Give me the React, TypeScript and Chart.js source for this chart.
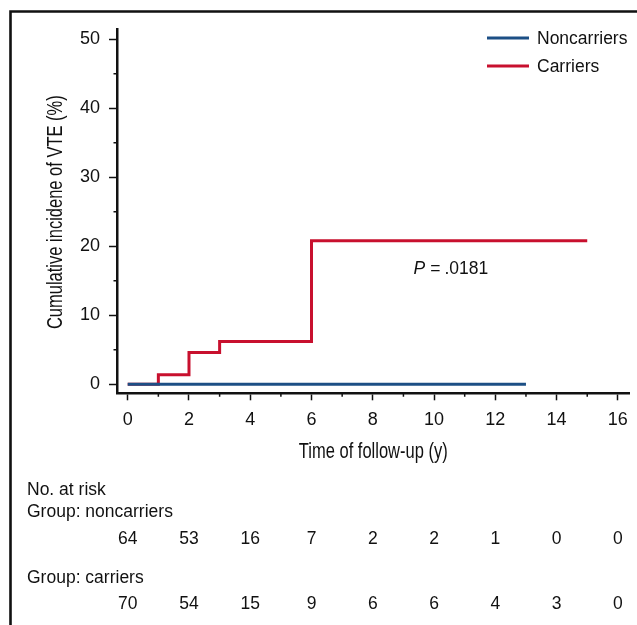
import { useEffect, useRef } from "react";
import { Chart, registerables } from "chart.js";

Chart.register(...registerables);

// ---- data ----
const seriesNames = ["Noncarriers", "Carriers"];
const noncarrierTimes = [0, 13];
const noncarrierIncidence = [0, 0];
const carrierTimes = [0, 1, 2, 3, 6, 15];
const carrierIncidence = [0, 1.4, 4.6, 6.2, 20.8, 20.8];

const xTickValues = [0, 2, 4, 6, 8, 10, 12, 14, 16];
const xMinorTicks = [1, 3, 5, 7, 9, 11, 13, 15];
const yTickValues = [0, 10, 20, 30, 40, 50];
const yMinorTicks = [5, 15, 25, 35, 45];

const riskTimes = [0, 2, 4, 6, 8, 10, 12, 14, 16];
const riskNoncarriers = [64, 53, 16, 7, 2, 2, 1, 0, 0];
const riskCarriers = [70, 54, 15, 9, 6, 6, 4, 3, 0];
const riskTitle = "No. at risk";
const riskGroupLabels = ["Group: noncarriers", "Group: carriers"];

const xTitle = "Time of follow-up (y)";
const yTitle = "Cumulative incidene of VTE (%)";
const pValueText = ".0181";
const pValuePos = { x: 10.55, y: 16.7 };

const BLUE = "#1c4f85";
const RED = "#c8102e";
const INK = "#111111";
const SANS = "'Liberation Sans', Arial, Helvetica, sans-serif";

function condensedText(ctx: any, text: string, x: number, y: number, rot: number) {
  ctx.save();
  ctx.translate(x, y);
  ctx.rotate(rot);
  ctx.scale(0.75, 1);
  ctx.font = `22px ${SANS}`;
  ctx.fillStyle = INK;
  ctx.textAlign = "center";
  ctx.textBaseline = "middle";
  ctx.fillText(text, 0, 0);
  ctx.restore();
}

const overlayPlugin = {
  id: "overlay",
  beforeDraw(chart: any) {
    const ctx = chart.ctx;
    ctx.save();
    ctx.strokeStyle = INK;
    ctx.lineWidth = 2.6;
    ctx.beginPath();
    ctx.moveTo(10.5, 625);
    ctx.lineTo(10.5, 11.5);
    ctx.lineTo(637, 11.5);
    ctx.stroke();
    ctx.restore();
  },
  afterDraw(chart: any) {
    const ctx = chart.ctx;
    const xs = chart.scales.x;
    const ys = chart.scales.y;
    ctx.save();
    // minor ticks
    ctx.strokeStyle = INK;
    ctx.lineWidth = 1.5;
    ctx.beginPath();
    for (const v of yMinorTicks) {
      const py = ys.getPixelForValue(v);
      ctx.moveTo(ys.right, py);
      ctx.lineTo(ys.right - 3.5, py);
    }
    for (const v of xMinorTicks) {
      const px = xs.getPixelForValue(v);
      ctx.moveTo(px, xs.top);
      ctx.lineTo(px, xs.top + 3.5);
    }
    ctx.stroke();

    // axis titles (condensed look)
    condensedText(ctx, xTitle, (xs.left + xs.right) / 2, 452, 0);
    condensedText(ctx, yTitle, 56, (ys.top + ys.bottom) / 2 + 1, -Math.PI / 2);

    // legend
    const legendItems = [
      { name: seriesNames[0], color: BLUE, y: 38 },
      { name: seriesNames[1], color: RED, y: 66 },
    ];
    ctx.font = `17.5px ${SANS}`;
    ctx.textBaseline = "middle";
    ctx.textAlign = "left";
    for (const it of legendItems) {
      ctx.strokeStyle = it.color;
      ctx.lineWidth = 3;
      ctx.beginPath();
      ctx.moveTo(487, it.y);
      ctx.lineTo(529, it.y);
      ctx.stroke();
      ctx.fillStyle = INK;
      ctx.fillText(it.name, 537, it.y + 1);
    }

    // P value
    const px = xs.getPixelForValue(pValuePos.x);
    const py = ys.getPixelForValue(pValuePos.y);
    ctx.font = `italic 17.5px ${SANS}`;
    const pW = ctx.measureText("P").width;
    ctx.font = `17.5px ${SANS}`;
    const eqW = ctx.measureText("=").width;
    const valW = ctx.measureText(pValueText).width;
    const total = pW + 5 + eqW + 4 + valW;
    let cx = px - total / 2;
    ctx.fillStyle = INK;
    ctx.font = `italic 17.5px ${SANS}`;
    ctx.fillText("P", cx, py);
    cx += pW + 5;
    ctx.font = `17.5px ${SANS}`;
    ctx.fillText("=", cx, py);
    cx += eqW + 4;
    ctx.fillText(pValueText, cx, py);

    // risk table
    ctx.textBaseline = "alphabetic";
    ctx.textAlign = "left";
    ctx.font = `17.5px ${SANS}`;
    ctx.fillText(riskTitle, 27, 495);
    ctx.fillText(riskGroupLabels[0], 27, 517);
    ctx.fillText(riskGroupLabels[1], 27, 583);
    ctx.textAlign = "center";
    riskTimes.forEach((t, i) => {
      const x = xs.getPixelForValue(t);
      ctx.fillText(String(riskNoncarriers[i]), x, 543.5);
      ctx.fillText(String(riskCarriers[i]), x, 608.5);
    });
    ctx.restore();
  },
};

export default function App() {
  const ref = useRef<HTMLCanvasElement | null>(null);
  useEffect(() => {
    if (!ref.current) return;
    const chart = new Chart(ref.current, {
      type: "line",
      data: {
        datasets: [
          {
            label: seriesNames[0],
            data: noncarrierTimes.map((t, i) => ({ x: t, y: noncarrierIncidence[i] })),
            borderColor: BLUE,
            backgroundColor: BLUE,
            borderWidth: 3,
            stepped: "before",
            pointRadius: 0,
            fill: false,
          },
          {
            label: seriesNames[1],
            data: carrierTimes.map((t, i) => ({ x: t, y: carrierIncidence[i] })),
            borderColor: RED,
            backgroundColor: RED,
            borderWidth: 3,
            stepped: "before",
            pointRadius: 0,
            fill: false,
          },
        ],
      },
      options: {
        animation: false,
        responsive: false,
        maintainAspectRatio: false,
        layout: { padding: { left: 0, top: 29, right: 5.3, bottom: 156.7 } },
        plugins: { legend: { display: false }, tooltip: { enabled: false } },
        scales: {
          x: {
            type: "linear",
            min: -0.35,
            max: 16.38,
            afterBuildTicks: (s: any) => {
              s.ticks = xTickValues.map((v) => ({ value: v }));
            },
            afterFit: (s: any) => {
              s.height = 75;
            },
            ticks: {
              color: INK,
              font: { family: SANS, size: 18 },
              padding: 9,
              maxRotation: 0,
              autoSkip: false,
            },
            grid: { drawOnChartArea: false, drawTicks: true, tickLength: 7, tickColor: INK, tickWidth: 1.5 },
            border: { display: true, color: INK, width: 2.5 },
            title: { display: false },
          },
          y: {
            type: "linear",
            min: -1.3,
            max: 51.5,
            afterBuildTicks: (s: any) => {
              s.ticks = yTickValues.map((v) => ({ value: v }));
            },
            afterFit: (s: any) => {
              s.width = 117;
            },
            ticks: {
              color: INK,
              font: { family: SANS, size: 18 },
              padding: 9,
              autoSkip: false,
            },
            grid: { drawOnChartArea: false, drawTicks: true, tickLength: 8, tickColor: INK, tickWidth: 1.5 },
            border: { display: true, color: INK, width: 2.5 },
            title: { display: false },
          },
        },
      },
      plugins: [overlayPlugin],
    } as any);
    return () => chart.destroy();
  }, []);
  return (
    <div style={{ position: "absolute", left: 0, top: 0, width: 637, height: 625, background: "#fff" }}>
      <canvas ref={ref} width={637} height={625} style={{ width: 637, height: 625, display: "block" }} />
    </div>
  );
}
